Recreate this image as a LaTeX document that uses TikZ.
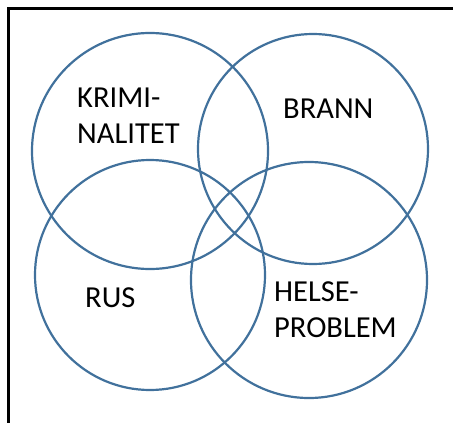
\documentclass[tikz,border=0pt]{standalone}
\usepackage{fontspec}
\setmainfont{Carlito}
\definecolor{ringblue}{HTML}{41719C}
\begin{document}
\begin{tikzpicture}[x=1pt,y=-1pt,
  ring/.style={draw=ringblue,line width=2.2pt},
  lbl/.style={inner sep=0pt,align=left,anchor=base west,font=\fontsize{30.5}{36}\selectfont,text=black}]
\useasboundingbox (0,0) rectangle (453,423);
\draw[line width=3pt,black] (8.5,423) -- (8.5,8.5) -- (453,8.5);
\draw[ring] (150,151) circle[radius=118];
\draw[ring] (313,149) circle[radius=115];
\draw[ring] (150,275) circle[radius=115];
\draw[ring] (309,280) circle[radius=118];
\node[lbl] (krim) at (77,143) {KRIMI-\\NALITET};
\node[lbl] (brann) at (283,118) {BRANN};
\node[lbl] (rus) at (85,307) {RUS};
\node[lbl] (helse) at (274,337) {HELSE-\\PROBLEM};
\end{tikzpicture}
\end{document}
